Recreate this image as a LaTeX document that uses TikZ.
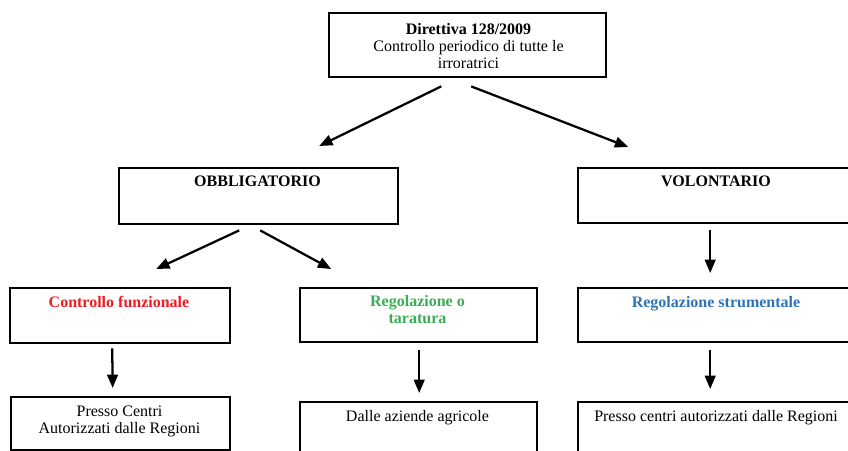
\documentclass[tikz,border=0pt]{standalone}
\usepackage{fontspec}
\setmainfont{Liberation Serif}
\usepackage{xcolor}
\usetikzlibrary{calc,arrows.meta}
\definecolor{rosso}{HTML}{ED1C24}
\definecolor{verde}{HTML}{3AAE55}
\definecolor{blu}{HTML}{2E74B5}
\def\px{0.75pt}

\begin{document}
\begin{tikzpicture}[x=\px,y=-\px,
		box/.style={draw,line width=1.8pt,anchor=north west,inner sep=0pt},
		testo/.style={anchor=base,align=center,inner sep=0pt,font=\fontsize{12}{12.5}\selectfont},
		freccia/.style={line width=1.7pt,-{Triangle[length=10pt,width=8pt]}}]
	\clip (0,0) rectangle (848,450);
	% caselle
	\node[box,minimum width=277*\px,minimum height=64*\px] at (328,12) (dir) {};
	\node[box,minimum width=279*\px,minimum height=56*\px] at (118,167) (obb) {};
	\node[box,minimum width=278*\px,minimum height=55*\px] at (577,167) (vol) {};
	\node[box,minimum width=220*\px,minimum height=55*\px] at (9,287) (contr) {};
	\node[box,minimum width=237*\px,minimum height=54*\px] at (299,287) (regol) {};
	\node[box,minimum width=278*\px,minimum height=54*\px] at (577,287) (strum) {};
	\node[box,minimum width=219*\px,minimum height=53*\px] at (10,396) (presso) {};
	\node[box,minimum width=237*\px,minimum height=70*\px] at (299,401) (dalle) {};
	\node[box,minimum width=278*\px,minimum height=70*\px] at (577,401) (centri) {};
	% testi (base = ultima riga)
	\node[testo] at (468.5,68) (tdir) {\textbf{Direttiva 128/2009}\\Controllo periodico di tutte le\\irroratrici};
	\node[testo] at (257.5,186) (tobb) {\textbf{OBBLIGATORIO}};
	\node[testo] at (716,186) (tvol) {\textbf{VOLONTARIO}};
	\node[testo,text=rosso] at (119,307) (tcontr) {\textbf{Controllo funzionale}};
	\node[testo,text=verde] at (417.5,323) (tregol) {\textbf{Regolazione o}\\\textbf{taratura}};
	\node[testo,text=blu] at (716,307) (tstrum) {\textbf{Regolazione strumentale}};
	\node[testo] at (119.5,433) (tpresso) {Presso Centri\\Autorizzati dalle Regioni};
	\node[testo] at (417.5,421) (tdalle) {Dalle aziende agricole};
	\node[testo] at (716,421) (tcentri) {Presso centri autorizzati dalle Regioni};
	% frecce
	\draw[freccia] ($(dir.south)+(-26.5,8)$) -- ($(obb.north)+(60.5,-21)$);
	\draw[freccia] ($(dir.south)+(3.5,8)$) -- ($(vol.north)+(-89,-20)$);
	\draw[freccia] ($(obb.south)+(-19.5,5)$) -- ($(contr.north)+(36,-18)$);
	\draw[freccia] ($(obb.south)+(1.5,5)$) -- ($(regol.north)+(-87.5,-18)$);
	\draw[freccia] ($(vol.south)+(-7,6)$) -- ($(strum.north)+(-7,-14)$);
	\draw[freccia] ($(contr.south)+(-8,4)$) -- ($(presso.north)+(-8,-8)$);
	\draw[freccia] ($(regol.south)+(0.5,7)$) -- ($(dalle.north)+(0.5,-8)$);
	\draw[freccia] ($(strum.south)+(-7,7)$) -- ($(centri.north)+(-7,-12)$);
\end{tikzpicture}
\end{document}
